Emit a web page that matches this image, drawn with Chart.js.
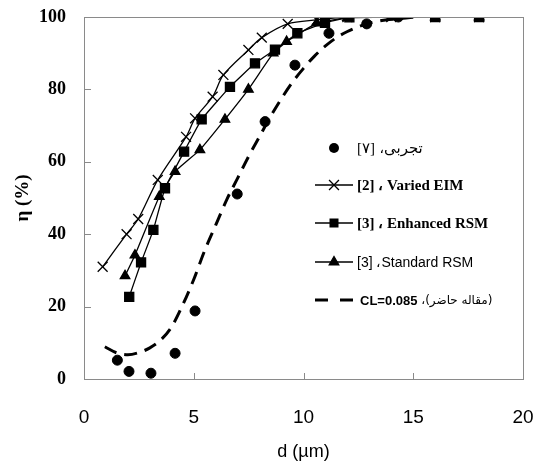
<!DOCTYPE html>
<html>
<head>
<meta charset="utf-8">
<script src="https://cdn.jsdelivr.net/npm/chart.js@4.4.0/dist/chart.umd.min.js"></script>
<style>
  body { margin: 0; background: #fff; }
  #wrap { width: 538px; height: 463px; }
</style>
</head>
<body>
<div id="wrap"><canvas id="effChart" width="538" height="463"></canvas></div>
<script>
// values
const expX = [1.52, 2.05, 3.05, 4.15, 5.06, 6.98, 8.25, 9.61, 11.16, 12.88, 14.32];
const expY = [5.2, 2.1, 1.6, 7.1, 18.8, 51.1, 71.1, 86.7, 95.5, 98.1, 100];

const eimX = [0.85, 1.94, 2.47, 3.36, 4.65, 5.06, 5.86, 6.35, 7.49, 8.1, 9.28, 10.6, 12.0, 14.0, 16.0, 18.0];
const eimY = [31, 40, 44.2, 55, 66.9, 72, 78, 84, 90.9, 94.3, 98.1, 99.2, 100, 100, 100, 100];

const enhX = [2.06, 2.6, 3.16, 3.69, 4.56, 5.36, 6.65, 7.79, 8.7, 9.72, 10.98, 12.09, 16.0, 18.0];
const enhY = [22.7, 32.2, 41.2, 52.7, 62.8, 71.7, 80.7, 87.2, 91, 95.5, 98.4, 99.9, 100, 100];

const stdX = [1.87, 2.32, 3.43, 4.15, 5.28, 6.42, 7.49, 8.62, 9.23, 10.6, 12.0, 14.0, 16.0, 18.0];
const stdY = [28.5, 34.2, 50.4, 57.3, 63.3, 71.7, 80, 90, 93.2, 98.3, 99.8, 100, 100, 100];

const clX = [0.95, 1.5, 2.0, 2.5, 3.0, 3.5, 4.0, 4.5, 5.0, 5.5, 6.0, 6.5, 7.0, 7.5, 8.0, 8.5, 9.0, 9.5, 10.0, 10.5, 11.0, 11.5, 12.0, 12.5, 13.0, 14.0, 15.0];
const clY = [8.9, 7.2, 6.7, 7.3, 8.6, 10.8, 14.5, 20.5, 27.5, 35.5, 42.5, 49.5, 55.5, 61.5, 67, 72.5, 77.5, 82, 85.8, 89.2, 92, 94.3, 96, 97.3, 98.3, 99.4, 99.9];

const xTicks = [0, 5, 10, 15, 20];
const yTicks = [0, 20, 40, 60, 80, 100];

// legend text, split into its visual pieces (left to right)
const legendLabels = [
  ['[۷]', ' ،', 'تجربی'],
  ['[2] ، Varied EIM'],
  ['[3] ، Enhanced RSM'],
  ['[3] ،Standard RSM'],
  ['CL=0.085', ' ،', '(مقاله حاضر)']
];

function pts(xs, ys) {
  return xs.map((x, i) => ({ x: x, y: ys[i] }));
}

const ink = '#000';
const frameColor = '#8a8a8a';

// inward ticks + frame
const framePlugin = {
  id: 'frame',
  afterDraw(chart) {
    const c = chart.ctx;
    const a = chart.chartArea;
    const xs = chart.scales.x, ys = chart.scales.y;
    c.save();
    c.strokeStyle = frameColor;
    c.lineWidth = 1;
    c.strokeRect(a.left + 0.5, a.top + 0.5, a.right - a.left, a.bottom - a.top);
    c.beginPath();
    xTicks.forEach(t => {
      const px = Math.round(xs.getPixelForValue(t)) + 0.5;
      c.moveTo(px, a.bottom);
      c.lineTo(px, a.bottom - 6);
    });
    yTicks.forEach(t => {
      const py = Math.round(ys.getPixelForValue(t)) + 0.5;
      c.moveTo(a.left, py);
      c.lineTo(a.left + 7, py);
    });
    c.stroke();
    c.restore();
  }
};

// draws pieces one after the other, each with its own font
function pieceText(c, pieces, fonts, x, y) {
  c.textAlign = 'left';
  pieces.forEach((p, i) => {
    c.font = fonts[i];
    c.fillText(p, x, y);
    x += c.measureText(p).width;
  });
}

// legend drawn inside the plot area
const innerLegend = {
  id: 'innerLegend',
  afterDraw(chart) {
    const c = chart.ctx;
    const x0 = 315, x1 = 353, mx = 334, tx = 357;
    const rows = [148, 185, 223, 262, 300];
    c.save();
    c.fillStyle = ink;
    c.strokeStyle = ink;
    c.textBaseline = 'middle';

    // experimental circle
    c.beginPath();
    c.arc(mx, rows[0], 5, 0, Math.PI * 2);
    c.fill();
    pieceText(c, legendLabels[0],
      ['15px "Liberation Serif"', '14px "DejaVu Sans"', '15px "DejaVu Sans"'], tx, rows[0] + 1);

    // lines with markers
    c.lineWidth = 1.3;
    [1, 2, 3].forEach(i => {
      c.beginPath();
      c.moveTo(x0, rows[i]);
      c.lineTo(x1, rows[i]);
      c.stroke();
    });
    Chart.helpers.drawPoint(c, { pointStyle: 'crossRot', radius: 7, borderWidth: 1.3 }, mx, rows[1]);
    c.fillRect(mx - 4.5, rows[2] - 4.5, 9, 9);
    Chart.helpers.drawPoint(c, { pointStyle: 'triangle', radius: 5.5, borderWidth: 1 }, mx, rows[3]);

    pieceText(c, legendLabels[1], ['bold 15px "Liberation Serif"'], tx, rows[1] + 1);
    pieceText(c, legendLabels[2], ['bold 15px "Liberation Serif"'], tx, rows[2] + 1);
    pieceText(c, legendLabels[3], ['14px "Liberation Sans"'], tx, rows[3] + 1);

    // dashed
    c.lineWidth = 3;
    c.beginPath();
    c.moveTo(315, rows[4]); c.lineTo(328, rows[4]);
    c.moveTo(340, rows[4]); c.lineTo(353, rows[4]);
    c.stroke();
    pieceText(c, legendLabels[4],
      ['bold 13px "Liberation Sans"', '12px "DejaVu Sans"', '12px "DejaVu Sans"'], 360, rows[4] + 1);
    c.restore();
  }
};

const common = { showLine: true, borderColor: ink, backgroundColor: ink, pointBorderColor: ink, pointBackgroundColor: ink };

new Chart(document.getElementById('effChart').getContext('2d'), {
  type: 'scatter',
  data: {
    datasets: [
      Object.assign({}, common, {
        label: 'CL=0.085', data: pts(clX, clY), borderWidth: 3, borderDash: [13, 8],
        pointRadius: 0, cubicInterpolationMode: 'monotone'
      }),
      Object.assign({}, common, {
        label: 'exp', data: pts(expX, expY), showLine: false,
        pointStyle: 'circle', pointRadius: 5
      }),
      Object.assign({}, common, {
        label: 'Varied EIM', data: pts(eimX, eimY), borderWidth: 1.3,
        pointStyle: 'crossRot', pointRadius: 7, pointBorderWidth: 1.3, tension: 0.3
      }),
      Object.assign({}, common, {
        label: 'Enhanced RSM', data: pts(enhX, enhY), borderWidth: 1.3,
        pointStyle: 'rect', pointRadius: 6.4, tension: 0.1
      }),
      Object.assign({}, common, {
        label: 'Standard RSM', data: pts(stdX, stdY), borderWidth: 1.3,
        pointStyle: 'triangle', pointRadius: 5.5, tension: 0.1
      })
    ]
  },
  options: {
    responsive: false,
    animation: false,
    events: [],
    layout: { padding: { top: 17, right: 15, left: 0, bottom: 0 } },
    plugins: { legend: { display: false }, tooltip: { enabled: false } },
    scales: {
      x: {
        type: 'linear', min: 0, max: 20,
        afterBuildTicks: s => { s.ticks = xTicks.map(v => ({ value: v })); },
        afterFit: s => { s.height = 84; s.paddingLeft = 0; s.paddingRight = 0; },
        grid: { display: false, drawTicks: false },
        border: { display: false },
        ticks: { color: ink, padding: 27, font: { family: '"Liberation Sans"', size: 19 } },
        title: { display: true, text: 'd (µm)', color: ink, padding: { top: 4, bottom: 0 }, font: { family: '"Liberation Sans"', size: 18 } }
      },
      y: {
        type: 'linear', min: 0, max: 100,
        afterBuildTicks: s => { s.ticks = yTicks.map(v => ({ value: v })); },
        afterFit: s => { s.width = 84; s.paddingTop = 0; s.paddingBottom = 0; },
        grid: { display: false, drawTicks: false },
        border: { display: false },
        ticks: { color: ink, padding: 18, font: { family: '"Liberation Serif"', size: 18, weight: 'bold' } },
        title: { display: true, text: 'η (%)', color: ink, padding: { top: 12, bottom: 0 }, font: { family: '"Liberation Serif"', size: 19, weight: 'bold' } }
      }
    }
  },
  plugins: [framePlugin, innerLegend]
});
</script>
</body>
</html>
